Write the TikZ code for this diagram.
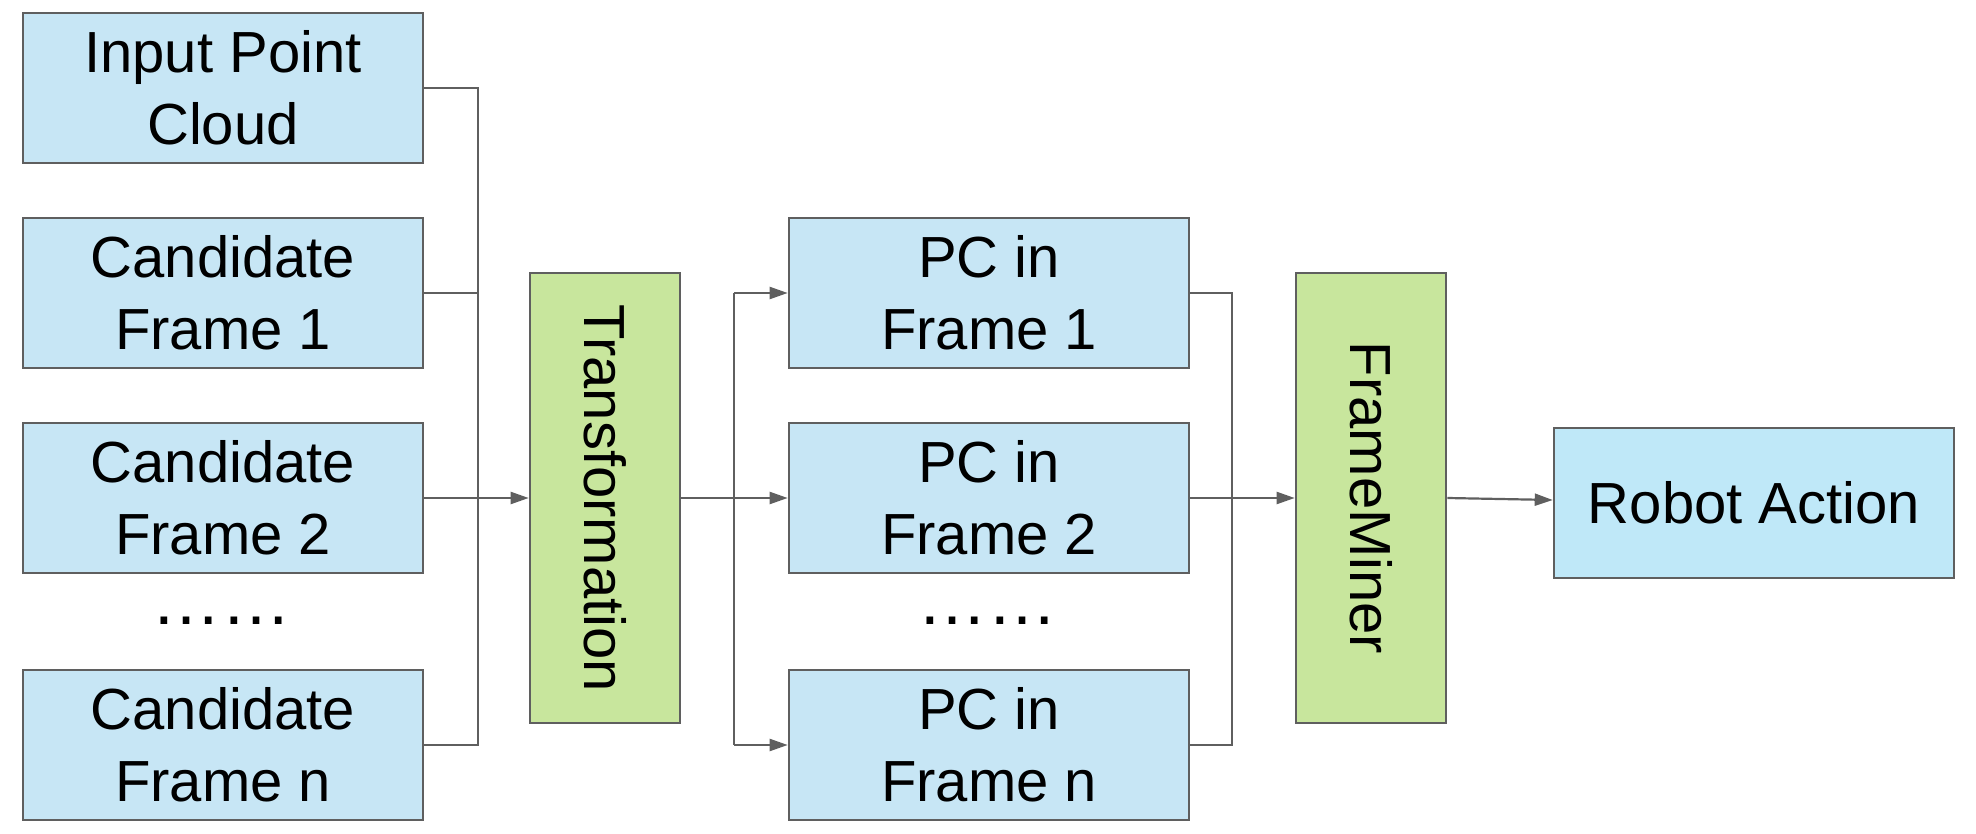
\documentclass[tikz,border=0pt]{standalone}
\usepackage{fontspec}
\setmainfont{Liberation Sans}
\usetikzlibrary{arrows.meta}
\definecolor{boxblue}{HTML}{C7E6F5}
\definecolor{actblue}{HTML}{BFE8F8}
\definecolor{bargreen}{HTML}{C8E69D}
\definecolor{edgegray}{HTML}{5F5F5F}
\begin{document}
\begin{tikzpicture}[x=0.5pt,y=-0.5pt,
  box/.style={draw=edgegray, line width=1.3pt, fill=boxblue, minimum width=200pt, minimum height=75pt, align=center, inner sep=0pt, font=\fontsize{29}{36}\selectfont},
  bar/.style={draw=edgegray, line width=1.3pt, fill=bargreen, minimum width=225pt, minimum height=75pt, inner sep=0pt, rotate=-90, font=\fontsize{29}{36}\selectfont},
  link/.style={draw=edgegray, line width=1.1pt},
  flow/.style={link, -{Triangle[length=9pt,width=6pt]}},
  dots/.style={inner sep=0pt, font=\fontsize{35}{36}\selectfont}]
\useasboundingbox (0,0) rectangle (1976,834);
\node[box] (inp) at (223,88) {Input Point\\Cloud};
\node[box] (cf1) at (223,293) {Candidate\\Frame 1};
\node[box] (cf2) at (223,498) {Candidate\\Frame 2};
\node[dots] (cfd) at (221,621) {……};
\node[box] (cfn) at (223,745) {Candidate\\Frame n};
\node[bar] (tf) at (605,498) {Transformation};
\node[box] (pc1) at (989,293) {PC in\\Frame 1};
\node[box] (pc2) at (989,498) {PC in\\Frame 2};
\node[dots] (pcd) at (987,621) {……};
\node[box] (pcn) at (989,745) {PC in\\Frame n};
\node[bar] (fm) at (1371,498) {FrameMiner};
\node[box, fill=actblue] (ra) at (1754,503) {Robot Action};
\coordinate (bus1) at (478,0);
\coordinate (bus2) at (734,0);
\coordinate (bus3) at (1232,0);

% inputs into the transformation
\path[link] (inp.east) -- (inp.east -| bus1) -- (cfn.east -| bus1) -- (cfn.east);
\path[link] (cf1.east) -- (cf1.east -| bus1);
\path[flow] (cf2.east) -- (tf.south);

% fan out to the frames
\path[flow] (tf.north) -- (pc2.west);
\path[link] (pc1.west -| bus2) -- (pcn.west -| bus2);
\path[flow] (pc1.west -| bus2) -- (pc1.west);
\path[flow] (pcn.west -| bus2) -- (pcn.west);

% collect into FrameMiner
\path[link] (pc1.east) -- (pc1.east -| bus3) -- (pcn.east -| bus3) -- (pcn.east);
\path[flow] (pc2.east) -- (fm.south);
\path[flow] (fm.north) -- ([yshift=1.5pt]ra.west);
\end{tikzpicture}
\end{document}
